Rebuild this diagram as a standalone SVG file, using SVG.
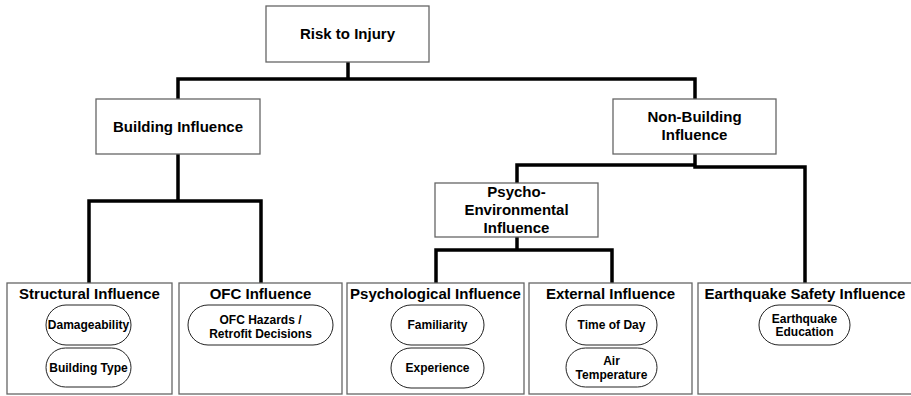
<svg xmlns="http://www.w3.org/2000/svg" width="911" height="396" viewBox="0 0 911 396">
<style>
.box{fill:#fff;stroke:#666;stroke-width:1.3}
.pill{fill:#fff;stroke:#222;stroke-width:1}
.t{font-family:"Liberation Sans",Arial,sans-serif;font-weight:bold;font-size:15px;fill:#000;text-anchor:middle}
.p{font-family:"Liberation Sans",Arial,sans-serif;font-weight:bold;font-size:12px;fill:#000;text-anchor:middle}
.c{fill:none;stroke:#000;stroke-width:3.5;stroke-linejoin:miter}
</style>
<rect width="911" height="396" fill="#fff"/>
<g id="connectors">
<path class="c" d="M348,62 V79 M178,99 V79 H695 V99"/>
<path class="c" d="M178,154 V201 M89,283 V201 H261 V283"/>
<path class="c" d="M517,183 V165 H695 V154 M695,165 V167 H805 V283"/>
<path class="c" d="M517,237 V250 M436,283 V250 H612 V283"/>
</g>
<g id="risk">
<rect class="box" x="266" y="6" width="163" height="56"/>
<text class="t" x="347.5" y="39">Risk to Injury</text>
</g>
<g id="building">
<rect class="box" x="96" y="99" width="164" height="55"/>
<text class="t" x="178" y="131.5">Building Influence</text>
</g>
<g id="nonbuilding">
<rect class="box" x="613" y="99" width="163" height="55"/>
<text class="t" x="694.5" y="122">Non-Building</text>
<text class="t" x="694.5" y="140">Influence</text>
</g>
<g id="psychoenv">
<rect class="box" x="435" y="183" width="163" height="54"/>
<text class="t" x="516.5" y="197">Psycho-</text>
<text class="t" x="516.5" y="215">Environmental</text>
<text class="t" x="516.5" y="233">Influence</text>
</g>
<g id="structural">
<rect class="box" x="7" y="283" width="165" height="111"/>
<text class="t" x="89.5" y="299">Structural Influence</text>
<g id="damageability">
<rect class="pill" x="46" y="305" width="85" height="40" rx="20" ry="20"/>
<text class="p" x="88.5" y="329.3">Damageability</text>
</g>
<g id="buildingtype">
<rect class="pill" x="46" y="348" width="85" height="39" rx="19.5" ry="19.5"/>
<text class="p" x="88.5" y="371.8">Building Type</text>
</g>
</g>
<g id="ofc">
<rect class="box" x="179" y="283" width="163" height="111"/>
<text class="t" x="260.5" y="299">OFC Influence</text>
<g id="ofchazards">
<rect class="pill" x="188" y="305" width="145" height="40" rx="20" ry="20"/>
<text class="p" x="260.5" y="324.3">OFC Hazards /</text>
<text class="p" x="260.5" y="337.8">Retrofit Decisions</text>
</g>
</g>
<g id="psychological">
<rect class="box" x="347" y="283" width="177" height="111"/>
<text class="t" x="435.5" y="299">Psychological Influence</text>
<g id="familiarity">
<rect class="pill" x="391" y="305" width="93" height="40" rx="20" ry="20"/>
<text class="p" x="437.5" y="329.3">Familiarity</text>
</g>
<g id="experience">
<rect class="pill" x="391" y="348" width="93" height="40" rx="20" ry="20"/>
<text class="p" x="437.5" y="372">Experience</text>
</g>
</g>
<g id="external">
<rect class="box" x="529" y="283" width="163" height="111"/>
<text class="t" x="610.5" y="299">External Influence</text>
<g id="timeofday">
<rect class="pill" x="566" y="305" width="91" height="40" rx="20" ry="20"/>
<text class="p" x="611.5" y="329.3">Time of Day</text>
</g>
<g id="airtemp">
<rect class="pill" x="566" y="348" width="91" height="39" rx="19.5" ry="19.5"/>
<text class="p" x="611.5" y="365">Air</text>
<text class="p" x="611.5" y="379">Temperature</text>
</g>
</g>
<g id="earthquake">
<rect class="box" x="698" y="283" width="216" height="111"/>
<text class="t" x="805" y="299">Earthquake Safety Influence</text>
<g id="eqeducation">
<rect class="pill" x="759" y="305" width="91" height="40" rx="20" ry="20"/>
<text class="p" x="804.5" y="322.5">Earthquake</text>
<text class="p" x="804.5" y="336.3">Education</text>
</g>
</g>
</svg>
